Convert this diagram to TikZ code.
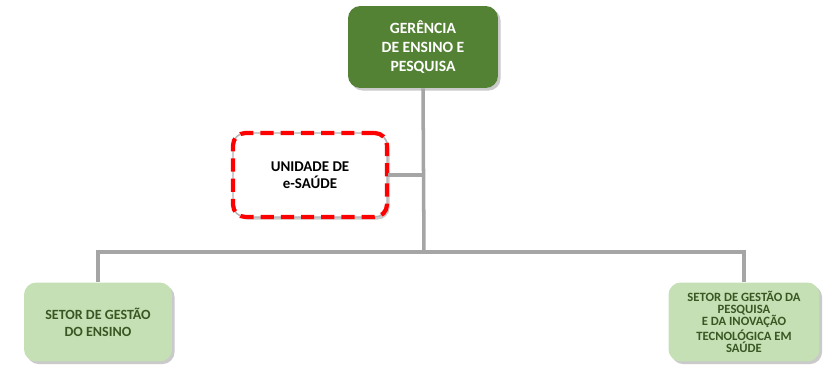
\documentclass[tikz,border=0pt]{standalone}
\usepackage{fontspec}
\setmainfont{Carlito}
\usetikzlibrary{positioning,shadows}
\definecolor{chefe}{HTML}{548235}
\definecolor{setor}{HTML}{C5E0B4}
\definecolor{setortxt}{HTML}{385723}
\definecolor{linha}{HTML}{A5A5A5}
\begin{document}
\begin{tikzpicture}[x=0.02cm,y=-0.02cm,every node/.style={font=\bfseries,align=center},
  caixa/.style={rounded corners=7pt,inner sep=2pt,drop shadow={shadow xshift=1.5pt,shadow yshift=-1.5pt,opacity=.35,fill=black!60}},
  gerencia/.style={caixa,fill=chefe,text=white,minimum width=3cm,minimum height=1.64cm,font=\bfseries\fontsize{8.9}{10.8}\selectfont},
  unidade/.style={caixa,fill=white,draw=gray!60,line width=.8pt,minimum width=3.08cm,minimum height=1.68cm,font=\bfseries\fontsize{8.5}{9.6}\selectfont,
    postaction={draw=red,line width=2.4pt,dash pattern=on 7.5pt off 4pt}},
  setorbox/.style={caixa,fill=setor,text=setortxt,minimum height=1.58cm},
  conector/.style={draw=linha,line width=2pt}]
\useasboundingbox (0,0) rectangle (833,375);
\node[gerencia] (ger) at (423,47) {GERÊNCIA\\DE ENSINO E\\PESQUISA};
\node[unidade] (esaude) at (310,175) {UNIDADE DE\\e-SAÚDE};
\node[setorbox,minimum width=2.96cm,font=\bfseries\fontsize{8}{9.6}\selectfont] (ensino) at (98,322) {SETOR DE GESTÃO\\DO ENSINO};
\node[setorbox,minimum width=3.02cm,font=\bfseries\fontsize{7.2}{6.9}\selectfont] (pesquisa) at (744,322) {SETOR DE GESTÃO DA\\PESQUISA\\E DA INOVAÇÃO\\TECNOLÓGICA EM\\SAÚDE};
\coordinate (jct) at (424,252);
% ligacoes
\begin{scope}[on background layer/.try]
\draw[conector] (ger.south) -- (jct);
\draw[conector] (jct) -| (ensino.north);
\draw[conector] (jct) -| (pesquisa.north);
\draw[conector] (esaude.east) -- (esaude.east -| ger.south);
\end{scope}
\end{tikzpicture}
\end{document}
